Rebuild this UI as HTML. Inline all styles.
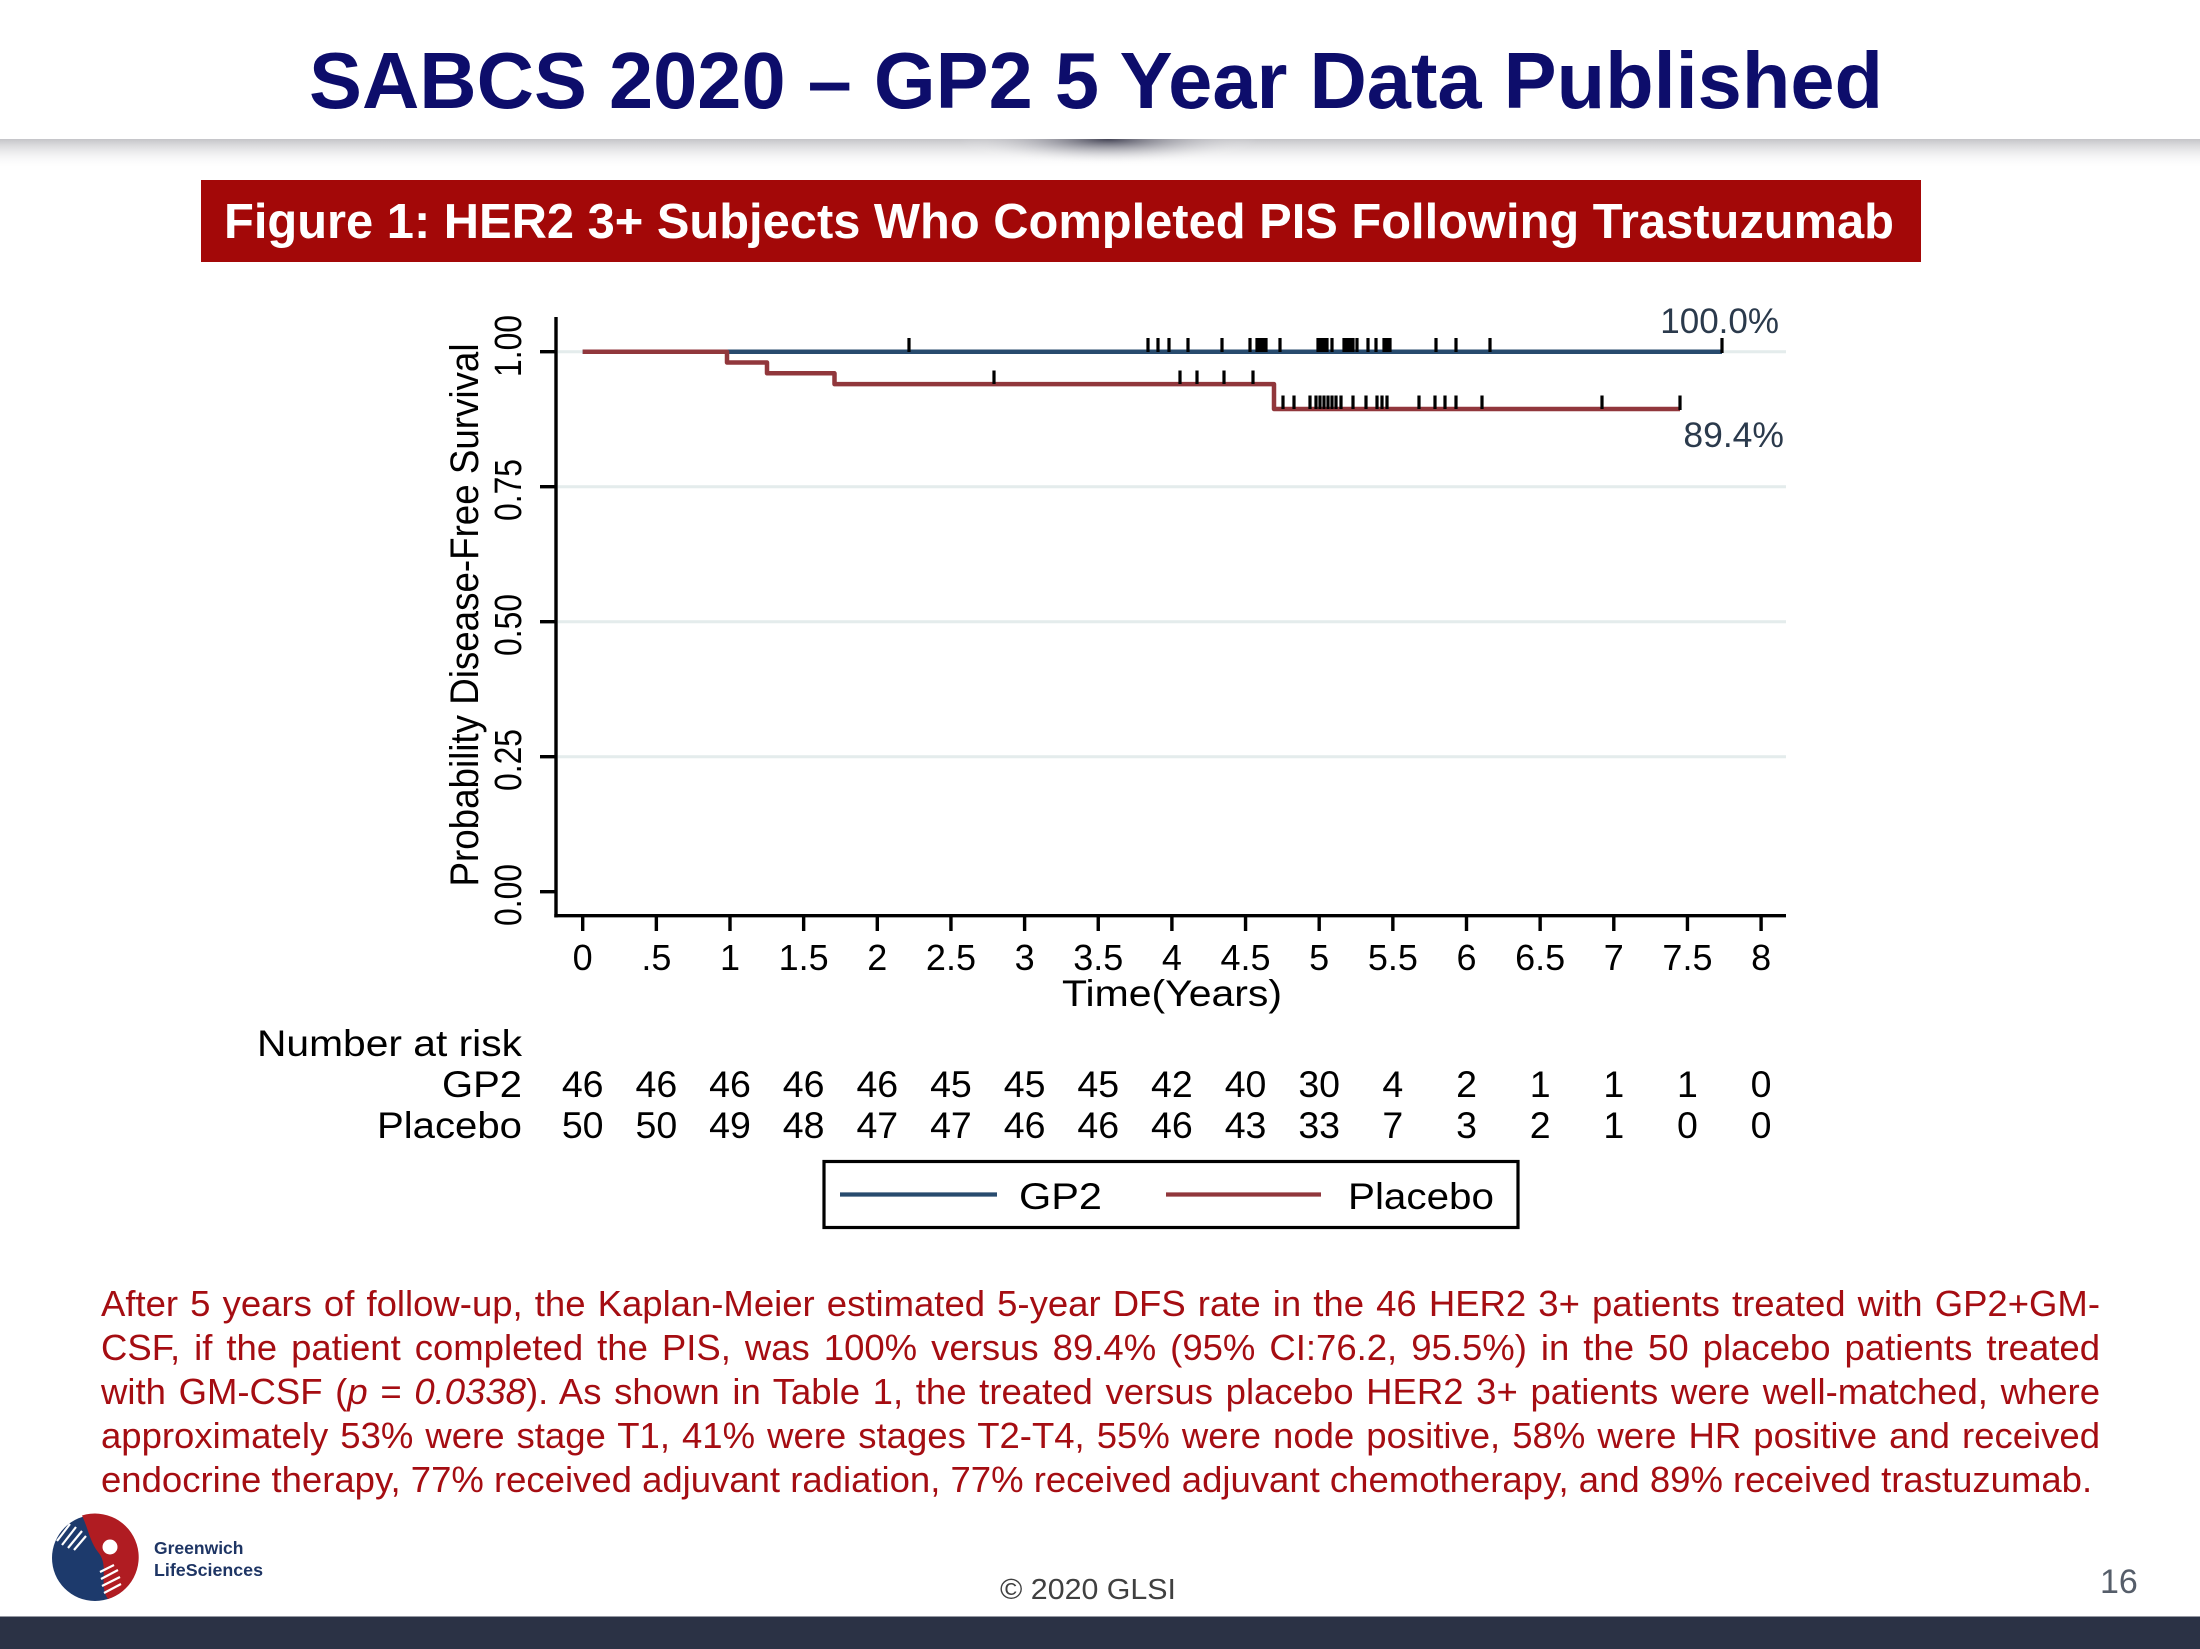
<!DOCTYPE html>
<html>
<head>
<meta charset="utf-8">
<style>
html,body{margin:0;padding:0;background:#fff;}
body{width:2200px;height:1649px;position:relative;overflow:hidden;font-family:"Liberation Sans",Arial,sans-serif;}
svg{position:absolute;left:0;top:0;}
.p{position:absolute;left:101px;width:1999px;height:44px;overflow:hidden;font-family:"Liberation Sans",Arial,sans-serif;font-size:36.5px;line-height:44px;color:#a50d12;text-align:justify;text-align-last:justify;}
.p.last{text-align:left;text-align-last:left;}
</style>
</head>
<body>
<svg width="2200" height="1649" viewBox="0 0 2200 1649" font-family="'Liberation Sans', Arial, sans-serif">
  <defs>
    <linearGradient id="sh" x1="0" y1="0" x2="0" y2="1">
      <stop offset="0" stop-color="#c4c4c8"/>
      <stop offset="1" stop-color="#ffffff" stop-opacity="0"/>
    </linearGradient>
    <radialGradient id="blob" gradientUnits="userSpaceOnUse" cx="1108" cy="139" r="150" gradientTransform="matrix(1 0 0 0.17 0 115.4)">
      <stop offset="0" stop-color="#3c3c4e" stop-opacity="0.95"/>
      <stop offset="1" stop-color="#ffffff" stop-opacity="0"/>
    </radialGradient>
  </defs>

  <!-- Title -->
  <text x="1096" y="108" text-anchor="middle" font-weight="bold" font-size="80" fill="#0d0d6b" textLength="1574" lengthAdjust="spacingAndGlyphs">SABCS 2020 – GP2 5 Year Data Published</text>

  <!-- shadow band -->
  <rect x="0" y="139" width="2200" height="30" fill="url(#sh)"/>
  <rect x="950" y="139" width="316" height="30" fill="url(#blob)"/>

  <!-- Figure banner -->
  <rect x="201" y="180" width="1720" height="82" fill="#a30808"/>
  <text x="1059" y="238" text-anchor="middle" font-weight="bold" font-size="49" fill="#ffffff" textLength="1670" lengthAdjust="spacingAndGlyphs">Figure 1: HER2 3+ Subjects Who Completed PIS Following Trastuzumab</text>

  <!-- gridlines -->
  <g stroke="#e4ecec" stroke-width="3">
    <line x1="558" y1="351.7" x2="1786" y2="351.7"/>
    <line x1="558" y1="486.7" x2="1786" y2="486.7"/>
    <line x1="558" y1="621.7" x2="1786" y2="621.7"/>
    <line x1="558" y1="756.7" x2="1786" y2="756.7"/>
  </g>

  <!-- axes -->
  <g stroke="#000" stroke-width="3.4" fill="none">
    <line x1="556" y1="317" x2="556" y2="917.4"/>
    <line x1="554.3" y1="915.7" x2="1786" y2="915.7"/>
    <line x1="540" y1="891.7" x2="556" y2="891.7"/>
    <line x1="540" y1="756.7" x2="556" y2="756.7"/>
    <line x1="540" y1="621.7" x2="556" y2="621.7"/>
    <line x1="540" y1="486.7" x2="556" y2="486.7"/>
    <line x1="540" y1="351.7" x2="556" y2="351.7"/>
    <path d="M582.7 915.7V931 M656.35 915.7V931 M730 915.7V931 M803.65 915.7V931 M877.3 915.7V931 M950.95 915.7V931 M1024.6 915.7V931 M1098.25 915.7V931 M1171.9 915.7V931 M1245.55 915.7V931 M1319.2 915.7V931 M1392.85 915.7V931 M1466.5 915.7V931 M1540.15 915.7V931 M1613.8 915.7V931 M1687.45 915.7V931 M1761.1 915.7V931"/>
  </g>

  <!-- y tick labels -->
  <g font-size="38" fill="#000" text-anchor="middle">
    <text transform="translate(521 895) rotate(-90)" textLength="62" lengthAdjust="spacingAndGlyphs">0.00</text>
    <text transform="translate(521 760) rotate(-90)" textLength="62" lengthAdjust="spacingAndGlyphs">0.25</text>
    <text transform="translate(521 625) rotate(-90)" textLength="62" lengthAdjust="spacingAndGlyphs">0.50</text>
    <text transform="translate(521 490) rotate(-90)" textLength="62" lengthAdjust="spacingAndGlyphs">0.75</text>
    <text transform="translate(521 346) rotate(-90)" textLength="62" lengthAdjust="spacingAndGlyphs">1.00</text>
  </g>
  <!-- y title -->
  <text transform="translate(478 615) rotate(-90)" text-anchor="middle" font-size="40" fill="#000" textLength="543" lengthAdjust="spacingAndGlyphs">Probability Disease-Free Survival</text>

  <!-- x tick labels -->
  <g font-size="36" fill="#000" text-anchor="middle">
    <text x="582.7" y="970">0</text>
    <text x="656.35" y="970">.5</text>
    <text x="730" y="970">1</text>
    <text x="803.65" y="970">1.5</text>
    <text x="877.3" y="970">2</text>
    <text x="950.95" y="970">2.5</text>
    <text x="1024.6" y="970">3</text>
    <text x="1098.25" y="970">3.5</text>
    <text x="1171.9" y="970">4</text>
    <text x="1245.55" y="970">4.5</text>
    <text x="1319.2" y="970">5</text>
    <text x="1392.85" y="970">5.5</text>
    <text x="1466.5" y="970">6</text>
    <text x="1540.15" y="970">6.5</text>
    <text x="1613.8" y="970">7</text>
    <text x="1687.45" y="970">7.5</text>
    <text x="1761.1" y="970">8</text>
  </g>
  <text x="1172" y="1006" text-anchor="middle" font-size="37" fill="#000" textLength="220" lengthAdjust="spacingAndGlyphs">Time(Years)</text>

  <!-- survival curves -->
  <path d="M582.7 351.7H1722" stroke="#284b6e" stroke-width="4.5" fill="none"/>
  <path d="M582.7 351.7H727V362.5H767V373.3H834.5V384.1H1274V409H1680" stroke="#91373c" stroke-width="4.5" fill="none" stroke-linejoin="round"/>

  <!-- censor marks -->
  <g stroke="#000" stroke-width="3.2" fill="none">
    <path d="M909 338V352 M1148 338V352 M1158 338V352 M1169 338V352 M1188 338V352 M1222 338V352 M1250 338V352 M1257 338V352 M1260 338V352 M1263 338V352 M1266 338V352 M1280 338V352 M1318 338V352 M1321 338V352 M1324 338V352 M1327 338V352 M1332 338V352 M1344 338V352 M1347 338V352 M1350 338V352 M1353 338V352 M1357 338V352 M1368 338V352 M1376 338V352 M1384 338V352 M1387 338V352 M1390 338V352 M1436 338V352 M1456 338V352 M1490 338V352 M1722 338V353"/>
    <path d="M994 370.5V384 M1180 370.5V384 M1197 370.5V384 M1224 370.5V384 M1253 370.5V384"/>
    <path d="M1283 395.5V409 M1294 395.5V409 M1310 395.5V409 M1316 395.5V409 M1320 395.5V409 M1324 395.5V409 M1328 395.5V409 M1332 395.5V409 M1336 395.5V409 M1341 395.5V409 M1353 395.5V409 M1366 395.5V409 M1377 395.5V409 M1382 395.5V409 M1387 395.5V409 M1419 395.5V409 M1435 395.5V409 M1445 395.5V409 M1456 395.5V409 M1482 395.5V409 M1602 395.5V409 M1680 395.5V410"/>
  </g>

  <!-- end labels -->
  <text x="1779" y="333" text-anchor="end" font-size="35" fill="#2b3a4c">100.0%</text>
  <text x="1784" y="447" text-anchor="end" font-size="35.5" fill="#2b3a4c">89.4%</text>

  <!-- Number at risk -->
  <g font-size="37.5" fill="#000">
    <text x="522" y="1056" text-anchor="end" textLength="265" lengthAdjust="spacingAndGlyphs">Number at risk</text>
    <text x="522" y="1097" text-anchor="end" textLength="80" lengthAdjust="spacingAndGlyphs">GP2</text>
    <text x="522" y="1138" text-anchor="end" textLength="145" lengthAdjust="spacingAndGlyphs">Placebo</text>
  </g>
  <g font-size="37.5" fill="#000" text-anchor="middle">
    <text x="582.7" y="1097">46</text>
    <text x="656.35" y="1097">46</text>
    <text x="730" y="1097">46</text>
    <text x="803.65" y="1097">46</text>
    <text x="877.3" y="1097">46</text>
    <text x="950.95" y="1097">45</text>
    <text x="1024.6" y="1097">45</text>
    <text x="1098.25" y="1097">45</text>
    <text x="1171.9" y="1097">42</text>
    <text x="1245.55" y="1097">40</text>
    <text x="1319.2" y="1097">30</text>
    <text x="1392.85" y="1097">4</text>
    <text x="1466.5" y="1097">2</text>
    <text x="1540.15" y="1097">1</text>
    <text x="1613.8" y="1097">1</text>
    <text x="1687.45" y="1097">1</text>
    <text x="1761.1" y="1097">0</text>

    <text x="582.7" y="1138">50</text>
    <text x="656.35" y="1138">50</text>
    <text x="730" y="1138">49</text>
    <text x="803.65" y="1138">48</text>
    <text x="877.3" y="1138">47</text>
    <text x="950.95" y="1138">47</text>
    <text x="1024.6" y="1138">46</text>
    <text x="1098.25" y="1138">46</text>
    <text x="1171.9" y="1138">46</text>
    <text x="1245.55" y="1138">43</text>
    <text x="1319.2" y="1138">33</text>
    <text x="1392.85" y="1138">7</text>
    <text x="1466.5" y="1138">3</text>
    <text x="1540.15" y="1138">2</text>
    <text x="1613.8" y="1138">1</text>
    <text x="1687.45" y="1138">0</text>
    <text x="1761.1" y="1138">0</text>
  </g>

  <!-- legend -->
  <rect x="824" y="1161.5" width="694" height="66" fill="#fff" stroke="#000" stroke-width="3.2"/>
  <line x1="840" y1="1194.5" x2="997" y2="1194.5" stroke="#284b6e" stroke-width="4.2"/>
  <text x="1019" y="1209" font-size="37.5" fill="#000" textLength="83" lengthAdjust="spacingAndGlyphs">GP2</text>
  <line x1="1166" y1="1194.5" x2="1321" y2="1194.5" stroke="#91373c" stroke-width="4.2"/>
  <text x="1348" y="1209" font-size="37.5" fill="#000" textLength="146" lengthAdjust="spacingAndGlyphs">Placebo</text>

  <!-- logo -->
  <g>
    <circle cx="95" cy="1558" r="43" fill="#1d3a6c"/>
    <path d="M82 1515.5 A43 43 0 0 1 108 1599 C98 1585 110 1566 98 1552 C90 1542 88 1528 82 1515.5 Z" fill="#b01c22"/>
    <g stroke="#fff" stroke-width="2.2">
      <line x1="57" y1="1541" x2="70" y2="1524"/>
      <line x1="62" y1="1545" x2="76" y2="1527"/>
      <line x1="68" y1="1548" x2="82" y2="1531"/>
      <line x1="74" y1="1550" x2="86" y2="1536"/>
      <line x1="100" y1="1572" x2="114" y2="1565"/>
      <line x1="101" y1="1579" x2="118" y2="1570"/>
      <line x1="102" y1="1586" x2="120" y2="1577"/>
      <line x1="104" y1="1593" x2="121" y2="1584"/>
    </g>
    <circle cx="110" cy="1547" r="7.5" fill="#fff"/>
    <text x="154" y="1554" font-size="17.5" font-weight="bold" fill="#1e3564">Greenwich</text>
    <text x="154" y="1576" font-size="17.5" font-weight="bold" fill="#1e3564" textLength="109" lengthAdjust="spacingAndGlyphs">LifeSciences</text>
  </g>

  <!-- footer -->
  <text x="1000" y="1599" font-size="29" fill="#404040" textLength="176" lengthAdjust="spacingAndGlyphs">© 2020 GLSI</text>
  <text x="2100" y="1593" font-size="34" fill="#565e6a">16</text>
  <rect x="0" y="1616.5" width="2200" height="33" fill="#2b3245"/>
</svg>

<div class="p" style="top:1282px">After 5 years of follow-up, the Kaplan-Meier estimated 5-year DFS rate in the 46 HER2 3+ patients treated with GP2+GM-</div>
<div class="p" style="top:1326px">CSF, if the patient completed the PIS, was 100% versus 89.4% (95% CI:76.2, 95.5%) in the 50 placebo patients treated</div>
<div class="p" style="top:1370px">with GM-CSF (<i>p</i> = <i>0.0338</i>). As shown in Table 1, the treated versus placebo HER2 3+ patients were well-matched, where</div>
<div class="p" style="top:1414px">approximately 53% were stage T1, 41% were stages T2-T4, 55% were node positive, 58% were HR positive and received</div>
<div class="p last" style="top:1458px">endocrine therapy, 77% received adjuvant radiation, 77% received adjuvant chemotherapy, and 89% received trastuzumab.</div>
</body>
</html>
